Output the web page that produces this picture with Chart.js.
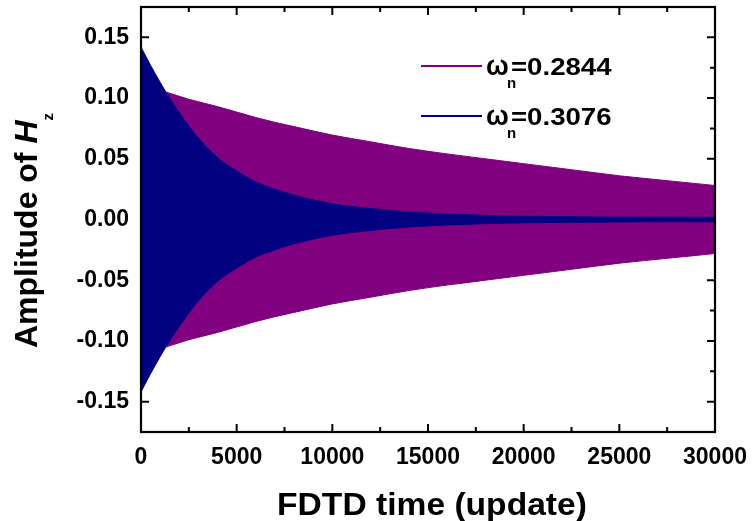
<!DOCTYPE html>
<html>
<head>
<meta charset="utf-8">
<title>Amplitude of Hz vs FDTD time</title>
<script src="https://cdn.jsdelivr.net/npm/chart.js@4.4.0/dist/chart.umd.min.js"></script>
<style>
  html, body { margin: 0; padding: 0; background: #fff; }
  #wrap { width: 754px; height: 521px; }
</style>
</head>
<body>
<div id="wrap"><canvas id="hzChart" width="754" height="521"></canvas></div>
<script>
// Decay envelopes of the ringing Hz field (upper / lower edge of the oscillation)
const timeSteps = [0, 500, 1000, 1300, 2000, 2500, 3000, 4000, 5000, 6000, 7000, 8000,
                   10000, 12000, 14000, 16000, 18000, 20000, 22500, 25000, 27500, 30000];

const omegaA = '0.2844';
const upperA = [0.112, 0.110, 0.1065, 0.105, 0.1015, 0.099, 0.097, 0.093, 0.0885, 0.084, 0.080, 0.0765,
                0.0695, 0.064, 0.0585, 0.054, 0.050, 0.046, 0.041, 0.036, 0.032, 0.028];
const lowerA = [-0.112, -0.110, -0.1065, -0.105, -0.1015, -0.099, -0.097, -0.093, -0.0885, -0.084, -0.080, -0.0765,
                -0.0695, -0.064, -0.0585, -0.054, -0.050, -0.046, -0.041, -0.036, -0.032, -0.028];

const omegaB = '0.3076';
const upperB = [0.142, 0.127, 0.113, 0.105, 0.088, 0.077, 0.067, 0.051, 0.040, 0.031, 0.025, 0.020,
                0.013, 0.009, 0.0062, 0.0045, 0.0034, 0.0027, 0.0023, 0.002, 0.0019, 0.0018];
const lowerB = [-0.142, -0.127, -0.113, -0.105, -0.088, -0.077, -0.067, -0.051, -0.040, -0.031, -0.025, -0.020,
                -0.013, -0.009, -0.0062, -0.0045, -0.0034, -0.0027, -0.0023, -0.002, -0.0019, -0.0018];

const xMajor = [0, 5000, 10000, 15000, 20000, 25000, 30000];
const xMinor = [2500, 7500, 12500, 17500, 22500, 27500];
const yMajor = [-0.15, -0.10, -0.05, 0.00, 0.05, 0.10, 0.15];
const yMinor = [-0.125, -0.075, -0.025, 0.025, 0.075, 0.125];

const PURPLE = '#800080';
const NAVY = '#000080';
const FONT = '"Liberation Sans", Arial, Helvetica, sans-serif';

Chart.defaults.font.family = FONT;
Chart.defaults.color = '#000';

function pts(vals) {
    return timeSteps.map((t, i) => ({ x: t, y: vals[i] }));
}

function envelope(label, vals, color, fill, order) {
    return {
        label: label,
        data: pts(vals),
        borderColor: color,
        backgroundColor: color,
        borderWidth: 1,
        pointRadius: 0,
        fill: fill,
        order: order,
        cubicInterpolationMode: 'monotone'
    };
}

/* ---------- frame, inward ticks, titles, legend ---------- */

const frameAndText = {
    id: 'frameAndText',
    beforeDatasetsDraw(chart) {
        // inward ticks on all four sides, covered by the fills
        const { ctx, chartArea: a, scales: { x, y } } = chart;
        ctx.save();
        ctx.strokeStyle = '#000';
        ctx.lineWidth = 2;
        ctx.beginPath();
        const xt = (v, len) => {
            const px = x.getPixelForValue(v);
            ctx.moveTo(px, a.bottom); ctx.lineTo(px, a.bottom - len);
            ctx.moveTo(px, a.top); ctx.lineTo(px, a.top + len);
        };
        const yt = (v, len) => {
            const py = y.getPixelForValue(v);
            ctx.moveTo(a.left, py); ctx.lineTo(a.left + len, py);
            ctx.moveTo(a.right, py); ctx.lineTo(a.right - len, py);
        };
        xMajor.forEach(v => xt(v, 8));
        xMinor.forEach(v => xt(v, 5));
        yMajor.forEach(v => yt(v, 8));
        yMinor.forEach(v => yt(v, 5));
        ctx.stroke();
        ctx.restore();
    },
    afterDatasetsDraw(chart) {
        const { ctx, chartArea: a } = chart;
        ctx.save();
        ctx.strokeStyle = '#000';
        ctx.lineWidth = 2.2;
        ctx.strokeRect(a.left, a.top, a.right - a.left, a.bottom - a.top);
        ctx.restore();
    },
    afterDraw(chart) {
        const { ctx, chartArea: a } = chart;
        ctx.save();
        ctx.fillStyle = '#000';
        ctx.textBaseline = 'alphabetic';
        ctx.textAlign = 'left';

        // x title, slightly widened
        ctx.font = 'bold 32px ' + FONT;
        const xTitle = 'FDTD time (update)';
        const sx = 1.05;
        const w = ctx.measureText(xTitle).width * sx;
        ctx.save();
        ctx.translate((a.left + a.right) / 2 + 4 - w / 2, 515);
        ctx.scale(sx, 1);
        ctx.fillText(xTitle, 0, 0);
        ctx.restore();

        // y title with italic H and subscript z
        ctx.save();
        ctx.translate(37, 348);
        ctx.rotate(-Math.PI / 2);
        ctx.font = 'bold 32px ' + FONT;
        const part = 'Amplitude of ';
        ctx.fillText(part, 0, 0);
        let off = ctx.measureText(part).width;
        ctx.font = 'italic bold 32px ' + FONT;
        ctx.fillText('H', off, 0);
        off += ctx.measureText('H').width;
        ctx.font = 'bold 15px ' + FONT;
        ctx.fillText('z', off, 16);
        ctx.restore();

        // legend: line sample + ω_n=value
        chart.data.datasets.filter(d => d.legendValue).forEach((d, i) => {
            const base = 75 + i * 50;
            ctx.strokeStyle = d.borderColor;
            ctx.lineWidth = 2;
            ctx.beginPath();
            ctx.moveTo(421, base - 9);
            ctx.lineTo(482, base - 9);
            ctx.stroke();

            ctx.font = 'bold 27px ' + FONT;
            ctx.fillText('\u03C9', 486, base);
            ctx.font = 'bold 15px ' + FONT;
            ctx.fillText('n', 507, base + 13);

            ctx.save();
            ctx.translate(511, base);
            ctx.scale(1.15, 1);
            ctx.font = 'bold 24px ' + FONT;
            ctx.fillText('=' + d.legendValue, 0, 0);
            ctx.restore();
        });
        ctx.restore();
    }
};

const dsA = envelope('\u03C9n=' + omegaA, upperA, PURPLE, '+1', 2);
dsA.legendValue = omegaA;
const dsB = envelope('\u03C9n=' + omegaB, upperB, NAVY, '+1', 1);
dsB.legendValue = omegaB;

new Chart(document.getElementById('hzChart'), {
    type: 'line',
    data: {
        datasets: [
            dsA,
            envelope('', lowerA, PURPLE, false, 2),
            dsB,
            envelope('', lowerB, NAVY, false, 1)
        ]
    },
    options: {
        responsive: false,
        animation: false,
        devicePixelRatio: 1,
        layout: { padding: { left: 0, right: 39, top: 7, bottom: 0 } },
        plugins: {
            legend: { display: false },
            tooltip: { enabled: false }
        },
        scales: {
            x: {
                type: 'linear',
                min: 0,
                max: 30000,
                grid: { display: false, drawTicks: false },
                border: { display: false },
                afterBuildTicks: s => { s.ticks = xMajor.map(v => ({ value: v })); },
                afterFit: s => { s.height = 89; s.paddingLeft = 0; s.paddingRight = 0; },
                ticks: {
                    autoSkip: false,
                    maxRotation: 0,
                    padding: 12,
                    font: { size: 23, weight: 'bold' },
                    color: '#000',
                    callback: v => String(v)
                }
            },
            y: {
                min: -0.175,
                max: 0.175,
                grid: { display: false, drawTicks: false },
                border: { display: false },
                afterBuildTicks: s => { s.ticks = yMajor.map(v => ({ value: v })); },
                afterFit: s => { s.width = 141; s.paddingTop = 0; s.paddingBottom = 0; },
                ticks: {
                    padding: 12,
                    font: { size: 23, weight: 'bold' },
                    color: '#000',
                    callback: v => v.toFixed(2)
                }
            }
        }
    },
    plugins: [frameAndText]
});
</script>
</body>
</html>
